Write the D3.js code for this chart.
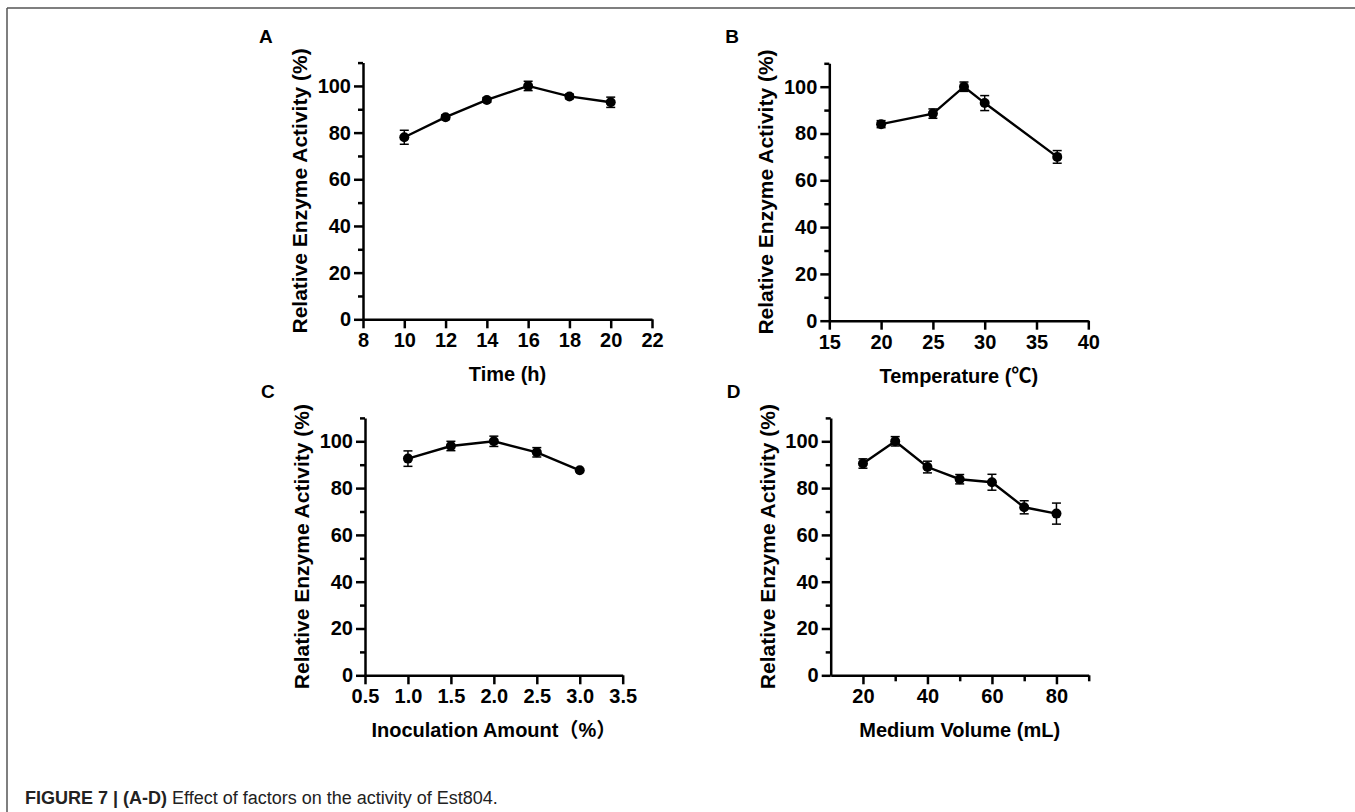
<!DOCTYPE html>
<html>
<head>
<meta charset="utf-8">
<script src="https://cdn.jsdelivr.net/npm/d3@7"></script>
<style>
  body { margin: 0; background: #fff; }
  text { font-family: Arial, "Liberation Sans", "Noto Sans CJK SC", sans-serif; }
</style>
</head>
<body>
<div class="chart"></div>
<script>
// Data
//= ================================
var timeX = [10, 12, 14, 16, 18, 20];
var timeY = [78, 86.6, 94, 100, 95.5, 93];
var timeErr = [3, 1, 1, 2, 1, 2.2];

var tempX = [20, 25, 28, 30, 37];
var tempY = [84, 88.5, 100, 93, 70];
var tempErr = [1.5, 2, 2, 3.2, 2.7];

var inocX = [1.0, 1.5, 2.0, 2.5, 3.0];
var inocY = [92.6, 98, 100, 95.3, 87.6];
var inocErr = [3.3, 2, 2.2, 2, 0];

var volX = [20, 30, 40, 50, 60, 70, 80];
var volY = [90.5, 100, 89, 83.8, 82.5, 71.8, 69.1];
var volErr = [2, 2, 2.5, 2, 3.4, 2.8, 4.5];

// tick values
var yTicks = [0, 20, 40, 60, 80, 100];
var yMinorTicks = [10, 30, 50, 70, 90, 110];
var timeTicks = [8, 10, 12, 14, 16, 18, 20, 22];
var tempTicks = [15, 20, 25, 30, 35, 40];
var inocTicks = [0.5, 1.0, 1.5, 2.0, 2.5, 3.0, 3.5];
var volTicks = [20, 40, 60, 80];
var volMinorTicks = [30, 50, 70, 90];

var svgWidth = 1355;
var svgHeight = 812;

var svg = d3
  .select(".chart")
  .append("svg")
  .attr("width", svgWidth)
  .attr("height", svgHeight);

// figure frame (top and left only)
svg.append("line")
  .attr("x1", 7).attr("y1", 8).attr("x2", svgWidth).attr("y2", 8)
  .attr("stroke", "#555").attr("stroke-width", 1.5);
svg.append("line")
  .attr("x1", 7).attr("y1", 8).attr("x2", 7).attr("y2", svgHeight)
  .attr("stroke", "#555").attr("stroke-width", 1.5);

// panel settings
var panels = [
  { letter: "A", xs: timeX, ys: timeY, err: timeErr, xDomain: [8, 22], ticks: timeTicks,
    fmt: d3.format("d"), label: "Time (h)",
    left: 363, right: 652, top: 62.6, bottom: 319.3 },
  { letter: "B", xs: tempX, ys: tempY, err: tempErr, xDomain: [15, 40], ticks: tempTicks,
    fmt: d3.format("d"), label: "Temperature (\u2103)",
    left: 829.3, right: 1088.3, top: 63.3, bottom: 320.7 },
  { letter: "C", xs: inocX, ys: inocY, err: inocErr, xDomain: [0.5, 3.5], ticks: inocTicks,
    fmt: d3.format(".1f"), label: "Inoculation Amount\uff08%\uff09",
    left: 365, right: 622.7, top: 417.9, bottom: 675.3 },
  { letter: "D", xs: volX, ys: volY, err: volErr, xDomain: [10, 90], ticks: volTicks,
    minor: volMinorTicks, fmt: d3.format("d"), label: "Medium Volume (mL)",
    left: 830.7, right: 1088.7, top: 417.9, bottom: 675.3 }
];

panels.forEach(function(p) {
  var g = svg.append("g");

  var xScale = d3.scaleLinear().domain(p.xDomain).range([p.left, p.right]);
  var yScale = d3.scaleLinear().domain([0, 110]).range([p.bottom, p.top]);

  // y axis, major + minor ticks
  var leftAxis = d3.axisLeft(yScale).tickValues(yTicks).tickSize(9).tickSizeOuter(0).tickPadding(3);
  g.append("g")
    .attr("class", "axis")
    .attr("transform", "translate(" + p.left + ",0)")
    .call(leftAxis);
  g.append("g")
    .attr("class", "axis")
    .attr("transform", "translate(" + p.left + ",0)")
    .call(d3.axisLeft(yScale).tickValues(yMinorTicks).tickSize(5).tickFormat(""))
    .select(".domain").remove();

  // x axis
  var bottomAxis = d3.axisBottom(xScale).tickValues(p.ticks).tickFormat(p.fmt)
    .tickSize(9).tickSizeOuter(0).tickPadding(5);
  g.append("g")
    .attr("class", "axis")
    .attr("transform", "translate(0," + p.bottom + ")")
    .call(bottomAxis);
  if (p.minor) {
    g.append("g")
      .attr("class", "axis")
      .attr("transform", "translate(0," + p.bottom + ")")
      .call(d3.axisBottom(xScale).tickValues(p.minor).tickSize(6).tickFormat(""))
      .select(".domain").remove();
  }

  g.selectAll(".axis path, .axis line")
    .attr("stroke", "#000")
    .attr("stroke-width", 2.5);
  g.selectAll(".axis text")
    .attr("fill", "#000")
    .style("font-size", "20px")
    .style("font-weight", "bold");

  var pts = p.xs.map(function(x, i) {
    return { x: x, y: p.ys[i], e: p.err[i] };
  });

  // connecting line
  var line = d3.line()
    .x(function(d) { return xScale(d.x); })
    .y(function(d) { return yScale(d.y); });
  g.append("path")
    .datum(pts)
    .attr("d", line)
    .attr("fill", "none")
    .attr("stroke", "#000")
    .attr("stroke-width", 2.4);

  // error bars
  var bars = g.selectAll(".err")
    .data(pts.filter(function(d) { return d.e > 0; }))
    .enter()
    .append("g")
    .attr("class", "err")
    .attr("stroke", "#000")
    .attr("stroke-width", 1.5);
  bars.append("line")
    .attr("x1", function(d) { return xScale(d.x); })
    .attr("x2", function(d) { return xScale(d.x); })
    .attr("y1", function(d) { return yScale(d.y - d.e); })
    .attr("y2", function(d) { return yScale(d.y + d.e); });
  bars.append("line")
    .attr("x1", function(d) { return xScale(d.x) - 4.5; })
    .attr("x2", function(d) { return xScale(d.x) + 4.5; })
    .attr("y1", function(d) { return yScale(d.y + d.e); })
    .attr("y2", function(d) { return yScale(d.y + d.e); });
  bars.append("line")
    .attr("x1", function(d) { return xScale(d.x) - 4.5; })
    .attr("x2", function(d) { return xScale(d.x) + 4.5; })
    .attr("y1", function(d) { return yScale(d.y - d.e); })
    .attr("y2", function(d) { return yScale(d.y - d.e); });

  // markers
  g.selectAll("circle")
    .data(pts)
    .enter()
    .append("circle")
    .attr("cx", function(d) { return xScale(d.x); })
    .attr("cy", function(d) { return yScale(d.y); })
    .attr("r", 5)
    .attr("fill", "#000");

  // y label
  g.append("text")
    .attr("transform", "translate(" + (p.left - 56) + "," + ((p.top + p.bottom) / 2) + ") rotate(-90)")
    .attr("text-anchor", "middle")
    .style("font-size", "21px")
    .style("font-weight", "bold")
    .text("Relative Enzyme Activity (%)");

  // x label
  g.append("text")
    .attr("x", (p.left + p.right) / 2)
    .attr("y", p.bottom + 62)
    .attr("text-anchor", "middle")
    .style("font-size", "20px")
    .style("font-weight", "bold")
    .text(p.label);

  // panel letter
  g.append("text")
    .attr("x", p.left - 104)
    .attr("y", p.top - 20)
    .style("font-size", "19px")
    .style("font-weight", "bold")
    .text(p.letter);
});

// caption
var caption = svg.append("text")
  .attr("x", 25)
  .attr("y", 804)
  .attr("fill", "#222")
  .style("font-size", "18px");
caption.append("tspan").style("font-weight", "bold").text("FIGURE 7 | (A-D)");
caption.append("tspan").text(" Effect of factors on the activity of Est804.");
</script>
</body>
</html>
